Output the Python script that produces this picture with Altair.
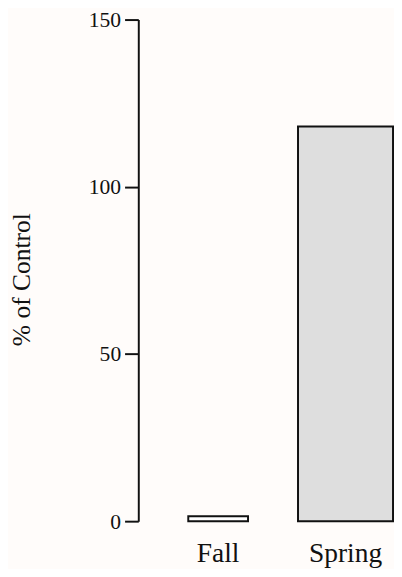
import altair as alt
import pandas as pd

seasons = ["Fall", "Spring"]
pct_of_control = [1.5, 118]
y_ticks = [0, 50, 100, 150]

df = pd.DataFrame({"season": seasons, "value": pct_of_control})

FONT = "Liberation Serif"
INK = "#111111"

x_enc = alt.X(
    "season:N",
    sort=seasons,
    scale=alt.Scale(paddingInner=0.254, paddingOuter=0.127, align=1),
    axis=alt.Axis(
        title=None, domain=False, ticks=False, tickSize=0, labelAngle=0,
        labelFont=FONT, labelFontSize=28, labelColor=INK,
        labelPadding=41, labelBaseline="alphabetic",
    ),
)
y_enc = alt.Y(
    "value:Q",
    scale=alt.Scale(domain=[0, 150], nice=False),
    axis=alt.Axis(
        title="% of Control", values=y_ticks, grid=False,
        domainColor=INK, domainWidth=2, tickColor=INK, tickWidth=2,
        tickSize=14, labelFont=FONT, labelFontSize=22, labelColor=INK,
        labelPadding=4, titleFont=FONT, titleFontSize=26,
        titleFontWeight="normal", titleColor=INK,
        titleX=-119, titleY=265, titleAngle=-90,
        titleAlign="center", titleBaseline="middle",
    ),
)

fall = alt.Chart(df).transform_filter(alt.datum.season == "Fall").mark_bar(
    width=61, fill="white", stroke=INK, strokeWidth=2
).encode(x=x_enc, y=y_enc)

spring = alt.Chart(df).transform_filter(alt.datum.season == "Spring").mark_bar(
    fill="#dedede", stroke=INK, strokeWidth=2
).encode(x=x_enc, y=y_enc)

chart = alt.layer(fall, spring).properties(
    width=260, height=512,
    autosize=alt.AutoSizeParams(type="none"),
    padding={"left": 133, "top": 6, "right": 1, "bottom": 43},
    background="#fffcfa",
).configure_view(stroke=None)

chart.save("out.html", embed_options={"renderer": "svg", "actions": False})
